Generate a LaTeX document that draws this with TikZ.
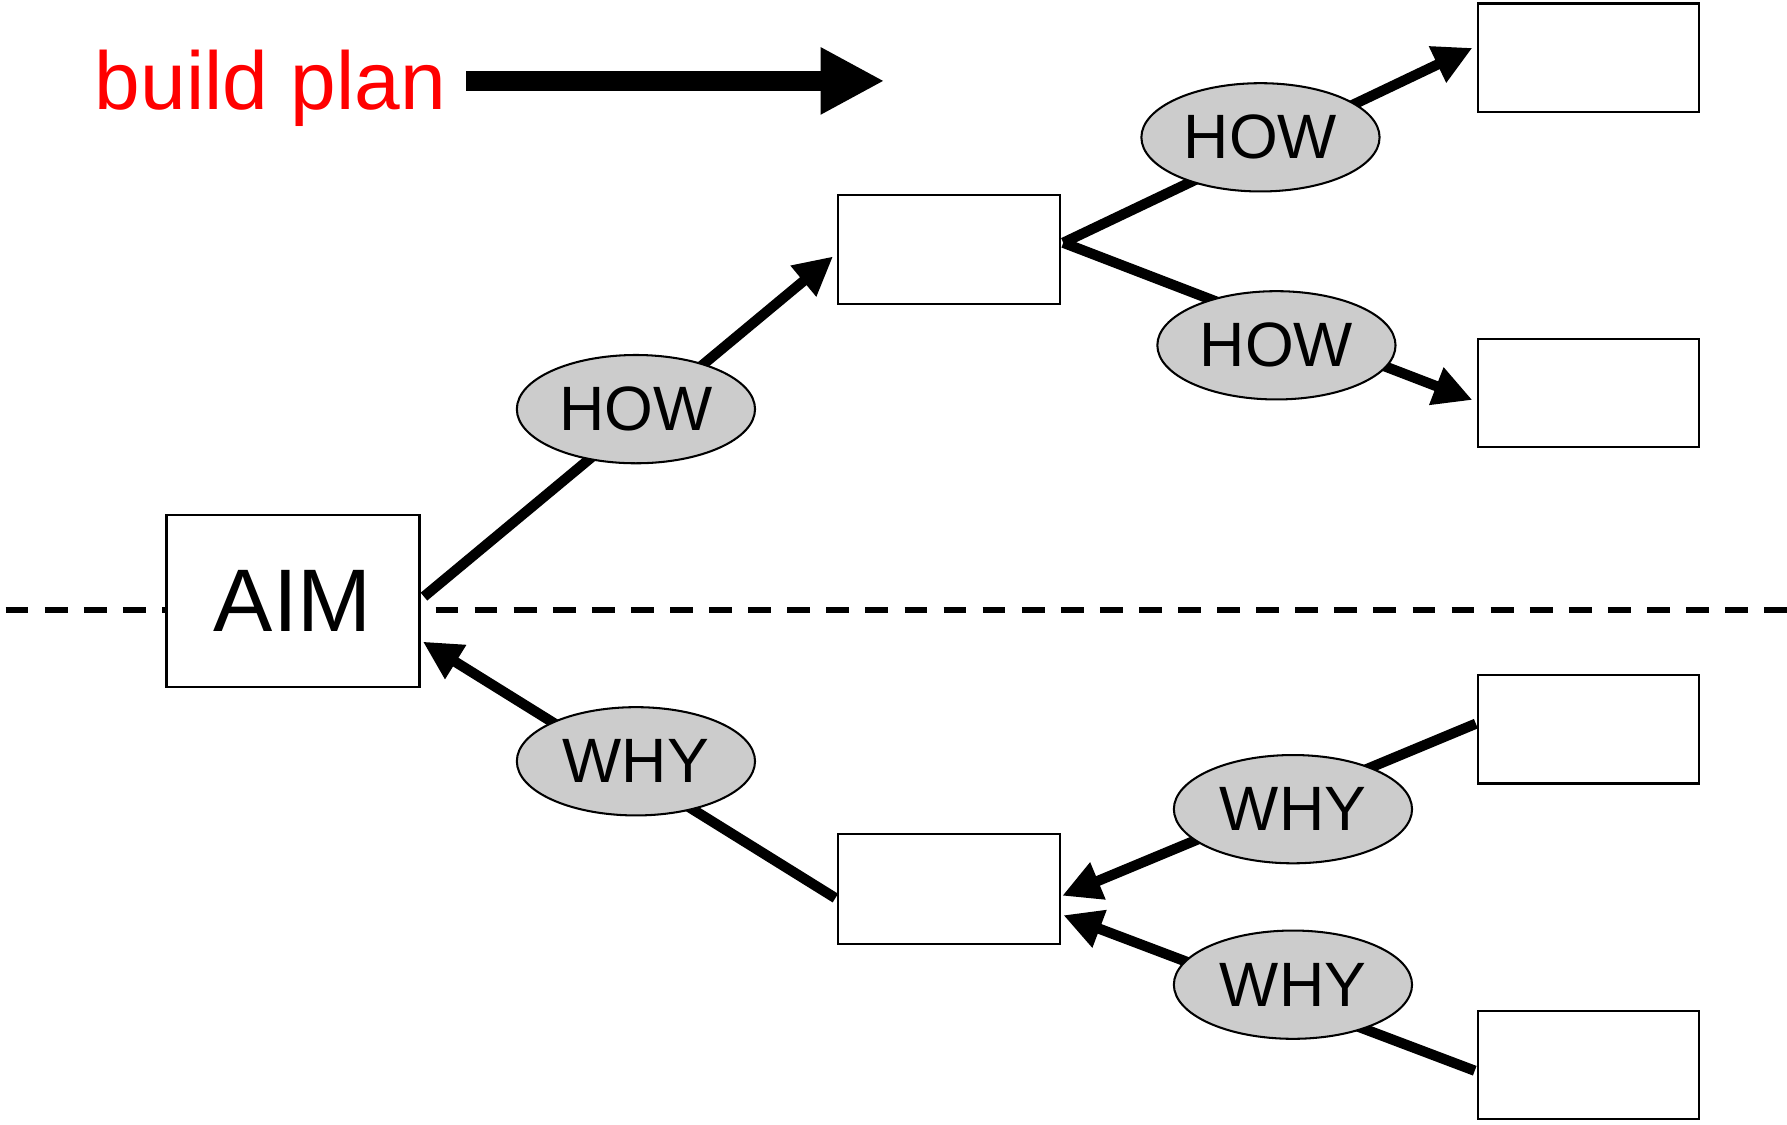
\documentclass[tikz,border=0pt]{standalone}
\usepackage{fontspec}
\setmainfont{Liberation Sans}
\usetikzlibrary{shapes.geometric,arrows.meta,calc}
\pgfdeclarelayer{bg}
\pgfsetlayers{bg,main}
\definecolor{bubblegray}{RGB}{204,204,204}
\begin{document}
\begin{tikzpicture}[x=1pt,y=-1pt,
  box/.style={rectangle, draw=black, line width=2pt, fill=white,
    minimum width=194pt, minimum height=95pt, inner sep=0pt},
  howwhy/.style={ellipse, draw=black, line width=1.8pt, fill=bubblegray,
    minimum width=209pt, minimum height=95pt, inner sep=0pt,
    font=\fontsize{55}{60}\selectfont},
  link/.style={line width=9pt},
  headed/.style={-{Triangle[length=34pt,width=33pt]}},
]
\useasboundingbox (0,0) rectangle (1568,987);

% title and direction arrow
\node[anchor=base west, inner sep=0pt, text=red,
  font=\fontsize{72}{80}\selectfont] (plan) at (83,96) {build plan};
\coordinate (pa) at (409,71);
\coordinate (pb) at (776,71);
\draw[line width=18pt, -{Triangle[length=56pt,width=55pt]}] (pa) -- (pb);

% boxes
\node[box, minimum width=222pt, minimum height=151pt,
  font=\fontsize{78}{84}\selectfont] (aim) at (257,527.5) {AIM};
\node[box, minimum width=195pt, minimum height=96pt] (m1) at (832.5,219) {};
\node[box, minimum width=195pt, minimum height=96pt] (m2) at (832.5,780) {};
\node[box] (r1) at (1394,50.5) {};
\node[box] (r2) at (1394,345) {};
\node[box] (r3) at (1394,640) {};
\node[box] (r4) at (1394,934.5) {};

% labels on the links
\node[howwhy] (h1) at (558,359) {HOW};
\node[howwhy] (h2) at (1106,120.5) {HOW};
\node[howwhy] (h3) at (1120,303) {HOW};
\node[howwhy] (w1) at (558,668) {WHY};
\node[howwhy] (w2) at (1134.5,710) {WHY};
\node[howwhy] (w3) at (1134.5,864) {WHY};

\begin{pgfonlayer}{bg}
  % dividing line
  \coordinate (dl) at (5,535);
  \coordinate (dr) at (1568,535);
  \draw[line width=5pt, dash pattern=on 20pt off 14.29pt] (dl) -- (dr);
  % links
  \draw[link, headed] ($(aim.east)+(3,-4)$) -- ($(m1.west)+(-3,6)$);
  \draw[link, headed] ($(m1.east)+(2,-6)$) -- ($(r1.west)+(-4,-8.5)$);
  \draw[link, headed] ($(m1.east)+(2,-6)$) -- ($(r2.west)+(-4,6)$);
  \draw[link, headed] ($(m2.west)+(-1,8)$) -- ($(aim.east)+(2,35.5)$);
  \draw[link, headed] ($(r3.west)+(-1,-5)$) -- ($(m2.east)+(1,6)$);
  \draw[link, headed] ($(r4.west)+(-2,5)$) -- ($(m2.east)+(2,23)$);
\end{pgfonlayer}
\end{tikzpicture}
\end{document}
